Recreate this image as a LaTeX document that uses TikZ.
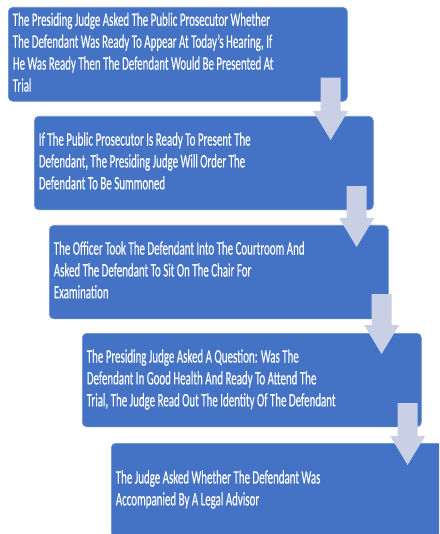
\documentclass[tikz,border=0pt]{standalone}
\usepackage{fontspec}
\setmainfont[FakeBold=0.5]{Carlito}
\usetikzlibrary{calc}
\definecolor{boxblue}{HTML}{4472C4}
\definecolor{boxedge}{HTML}{6A8ED2}
\definecolor{arrowfill}{HTML}{C9D0E5}
\newcommand\boxlines[1]{\makebox[330pt][l]{\raisebox{-2pt}{\scalebox{0.575}[1]{\begin{tabular}{@{}l@{}}#1\end{tabular}}}}}
\tikzset{
  stepbox/.style={draw=boxedge, line width=0.6pt, fill=boxblue, rounded corners=4.5pt,
    anchor=north west, minimum width=339pt, minimum height=93.5pt,
    inner xsep=4.5pt, inner ysep=0pt, text=white,
    font=\fontsize{19}{21.9}\selectfont},
  arrowshape/.style={fill=arrowfill}
}
\newcommand\stepdownarrow[2]{%
  \fill[arrowshape] let \p1=(#1), \p2=(#2) in
    (\x1-10pt,\y1) -- (\x1+10pt,\y1) -- (\x1+10pt,\y2+29pt) -- (\x1+17.5pt,\y2+29pt)
    -- (\x1,\y2) -- (\x1-17.5pt,\y2+29pt) -- (\x1-10pt,\y2+29pt) -- cycle;}
\begin{document}
\begin{tikzpicture}[x=1pt,y=-1pt]
\useasboundingbox (0,0) rectangle (439,534);
\clip (0,0) rectangle (439,534);
\node[stepbox, minimum height=94pt] (b1) at (8,7) {\boxlines{The Presiding Judge Asked The Public Prosecutor Whether\\The Defendant Was Ready To Appear At Today's Hearing, If\\He Was Ready Then The Defendant Would Be Presented At\\Trial}};
\node[stepbox] (b2) at (34,116) {\boxlines{If The Public Prosecutor Is Ready To Present The\\Defendant, The Presiding Judge Will Order The\\Defendant To Be Summoned}};
\node[stepbox] (b3) at (49,225) {\boxlines{The Officer Took The Defendant Into The Courtroom And\\Asked The Defendant To Sit On The Chair For\\Examination}};
\node[stepbox] (b4) at (82,333) {\boxlines{The Presiding Judge Asked A Question: Was The\\Defendant In Good Health And Ready To Attend The\\Trial, The Judge Read Out The Identity Of The Defendant}};
\node[stepbox] (b5) at (111,443) {\boxlines{The Judge Asked Whether The Defendant Was\\Accompanied By A Legal Advisor}};
\coordinate (s1) at ($(b1.south east)+(-17,-24)$);
\coordinate (t1) at ($(s1 |- b2.north)+(0,24)$);
\coordinate (s2) at ($(b2.south east)+(-17,-24)$);
\coordinate (t2) at ($(s2 |- b3.north)+(0,22)$);
\coordinate (s3) at ($(b3.south east)+(-7,-25)$);
\coordinate (t3) at ($(s3 |- b4.north)+(0,21)$);
\coordinate (s4) at ($(b4.south east)+(-14,-24)$);
\coordinate (t4) at ($(s4 |- b5.north)+(0,22)$);
\stepdownarrow{s1}{t1}
\stepdownarrow{s2}{t2}
\stepdownarrow{s3}{t3}
\stepdownarrow{s4}{t4}
\end{tikzpicture}
\end{document}
